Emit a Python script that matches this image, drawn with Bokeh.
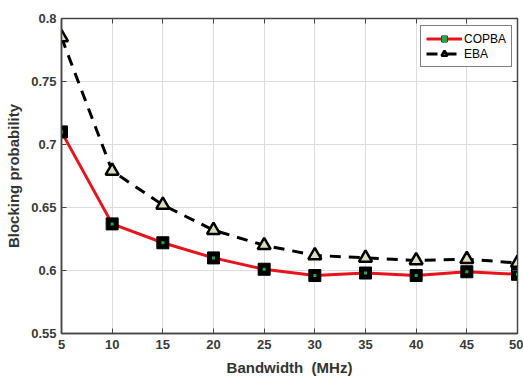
from bokeh.plotting import figure
from bokeh.models import ColumnDataSource, Legend, LegendItem, FixedTicker, LinearAxis, Range1d
from bokeh.embed import file_html
from bokeh.resources import INLINE

bandwidth = [5, 10, 15, 20, 25, 30, 35, 40, 45, 50]
copba = [0.710, 0.637, 0.622, 0.610, 0.601, 0.596, 0.598, 0.596, 0.599, 0.597]
eba = [0.785, 0.679, 0.652, 0.632, 0.620, 0.612, 0.610, 0.608, 0.609, 0.606]
x_ticks = [5, 10, 15, 20, 25, 30, 35, 40, 45, 50]
y_ticks = [0.55, 0.6, 0.65, 0.7, 0.75, 0.8]

src = ColumnDataSource(dict(x=bandwidth, c=copba, e=eba))

p = figure(width=523, height=378, output_backend="svg", toolbar_location=None,
           x_range=Range1d(5, 50), y_range=Range1d(0.55, 0.8),
           min_border_left=61, min_border_right=6, min_border_top=18, min_border_bottom=45)
p.outline_line_color = "#444444"
p.outline_line_width = 1.5

for ax, ticks in ((p.xaxis[0], x_ticks), (p.yaxis[0], y_ticks)):
    ax.ticker = FixedTicker(ticks=ticks)
    ax.major_tick_in = 5
    ax.major_tick_out = 0
    ax.minor_tick_line_color = None
    ax.axis_line_color = "#444444"
    ax.axis_line_width = 1.5
    ax.major_tick_line_color = "#444444"
    ax.major_label_text_font = "Liberation Sans"
    ax.major_label_text_font_size = "13px"
    ax.major_label_text_font_style = "bold"
    ax.major_label_text_color = "#3a3a3a"
    ax.axis_label_text_font = "Liberation Sans"
    ax.axis_label_text_font_style = "bold"
    ax.axis_label_text_color = "#333333"
    ax.axis_label_text_font_size = "15px"

p.xaxis[0].axis_label = "Bandwidth\u00a0 (MHz)"
p.yaxis[0].axis_label = "Blocking probability"
p.xaxis[0].axis_label_standoff = 7
p.xaxis[0].major_label_standoff = 6
p.yaxis[0].axis_label_standoff = 6
p.yaxis[0].major_label_standoff = 5
p.yaxis[0].major_label_overrides = {0.8: "0.8", 0.7: "0.7", 0.6: "0.6"}

for ticks, side in ((x_ticks, "above"), (y_ticks, "right")):
    extra = LinearAxis(ticker=FixedTicker(ticks=ticks), major_label_text_font_size="0px",
                       major_label_standoff=0, major_tick_in=5, major_tick_out=0,
                       minor_tick_line_color=None, axis_line_color="#444444",
                       major_tick_line_color="#444444")
    p.add_layout(extra, side)

p.xgrid.grid_line_color = "#dddddd"
p.ygrid.grid_line_color = "#dddddd"

l1 = p.line("x", "c", source=src, line_color="#e8141c", line_width=3)
m1 = p.scatter("x", "c", source=src, marker="square", size=12, fill_color="black", line_color="black")
d1 = p.scatter("x", "c", source=src, marker="square", size=3, fill_color="#22aa44", line_color=None)
l2 = p.line("x", "e", source=src, line_color="black", line_width=3, line_dash="11 8")
m2 = p.scatter("x", "e", source=src, marker="triangle", size=13, fill_color="#ddddbb", line_color="black", line_width=2.5)

legend = Legend(items=[LegendItem(label="COPBA", renderers=[l1, m1, d1]),
                       LegendItem(label="EBA", renderers=[l2, m2])],
                location=(359, 266))
legend.label_text_font = "Liberation Sans"
legend.label_text_font_size = "12px"
legend.label_text_color = "black"
legend.border_line_color = "black"
legend.border_line_width = 1
legend.padding = 5
legend.spacing = 0
legend.margin = 0
legend.glyph_width = 36
legend.glyph_height = 15
legend.label_standoff = 2
legend.label_height = 15
p.add_layout(legend)

open("out.html", "w").write(file_html(p, INLINE))
